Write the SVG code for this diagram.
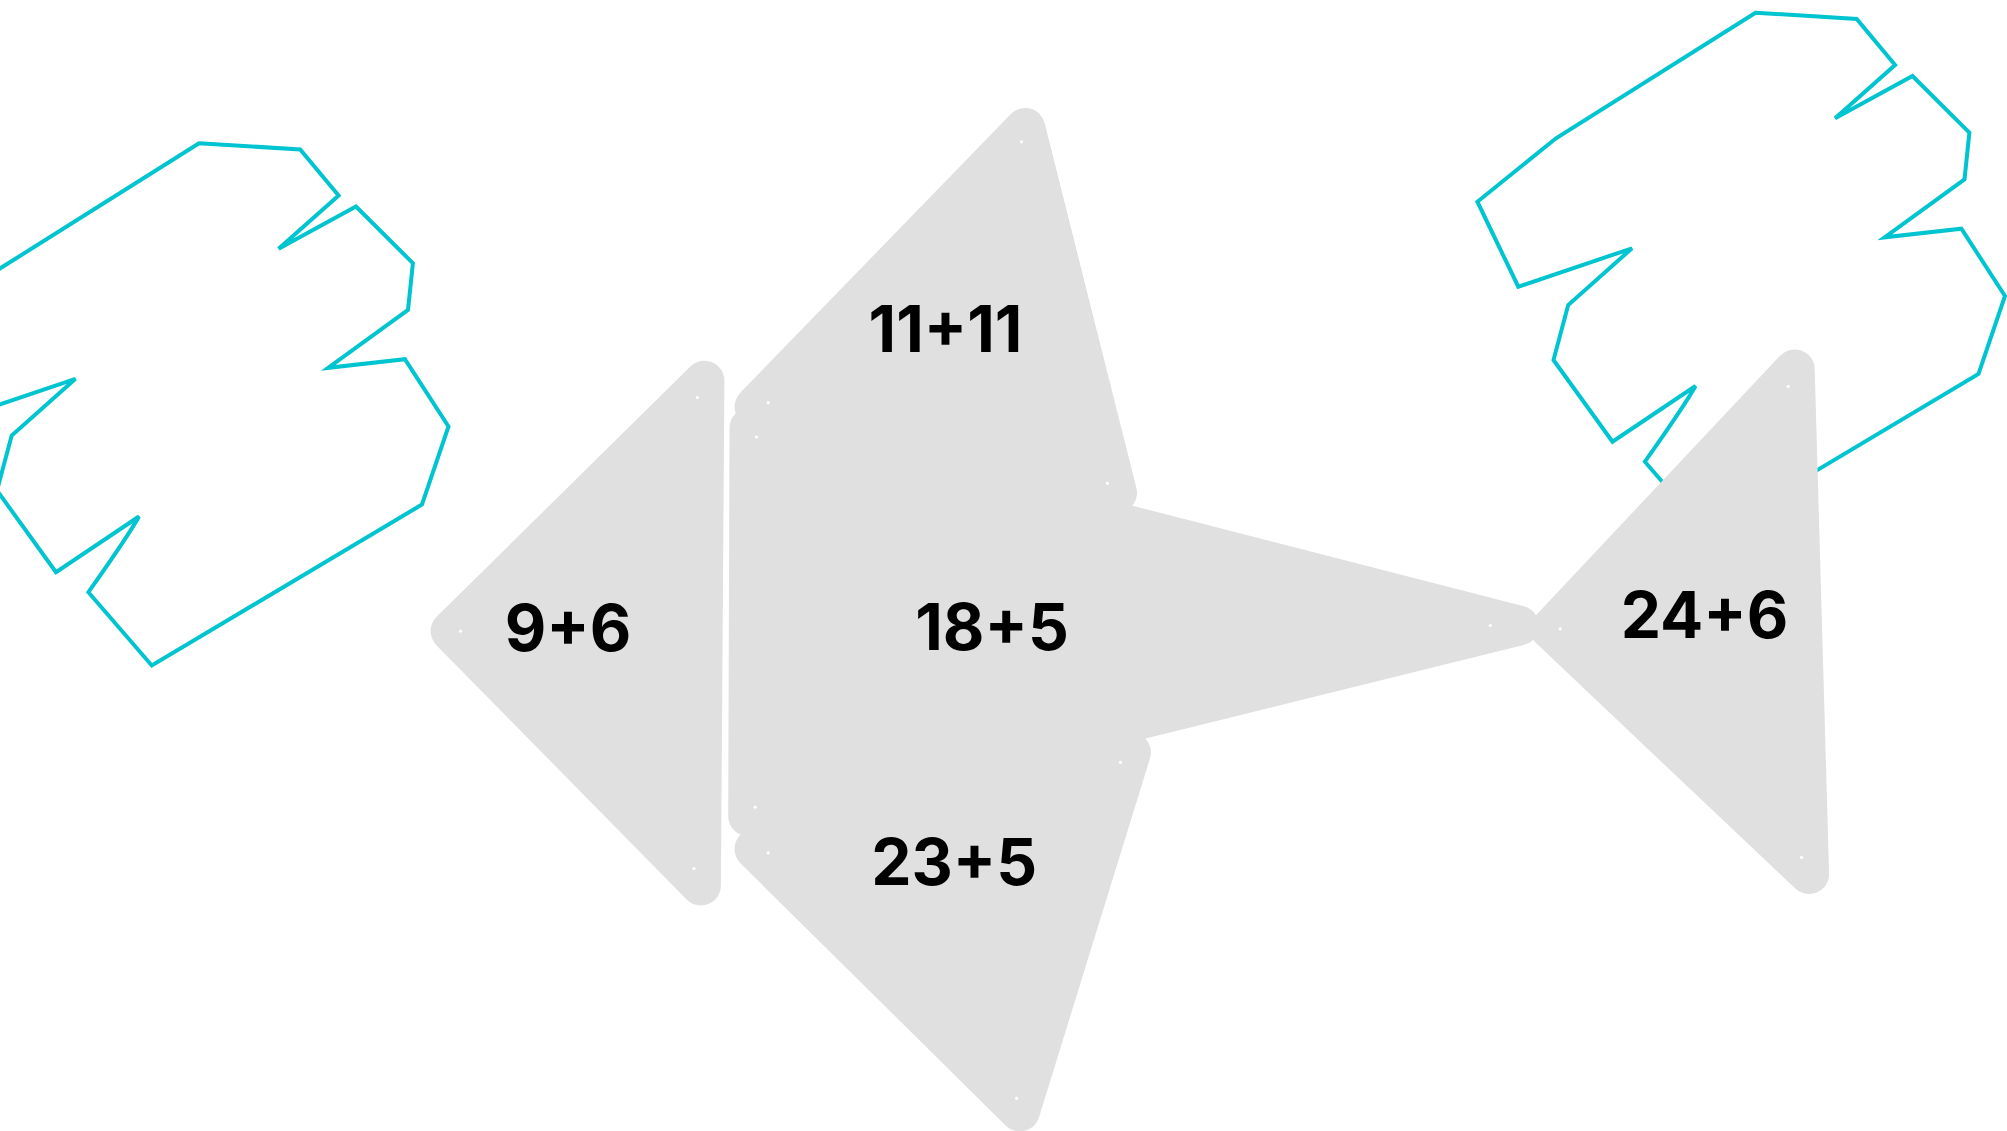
<svg xmlns="http://www.w3.org/2000/svg" xmlns:xlink="http://www.w3.org/1999/xlink" width="2007" height="1131" viewBox="0 0 2007 1131">
<style>
.tri{fill:#e0e0e0;stroke:#e0e0e0;stroke-width:40;stroke-linejoin:round}
.dot{fill:#ffffff}
.lbl{font-family:"Inter","Liberation Sans",sans-serif;font-weight:700;font-size:64px;fill:#000;text-anchor:middle}
.blob{fill:none;stroke:#00c4d0;stroke-width:4;stroke-linejoin:miter}
</style>
<defs>
<path id="blobShape" d="M1755.5,12.7 L1856.7,19 L1895.1,65 L1835.1,118.3 L1912.5,76 L1969.4,132.7 L1964.5,179.3 L1884.6,237.3 L1961.4,228.7 L2005,296 L1978.5,374 L1708.3,535 L1644.9,461.7 Q1685,405 1695.5,386 L1612.5,441.7 L1553.5,360 L1568.2,305 L1632,248.3 L1518.3,286.7 L1477.4,201.7 L1556,138.3 Z"/>
</defs>
<rect width="2007" height="1131" fill="#ffffff"/>
<g id="decor">
<use id="blob-left" xlink:href="#blobShape" href="#blobShape" class="blob" transform="translate(-1556.5,130.5)"/>
<use id="blob-right" xlink:href="#blobShape" href="#blobShape" class="blob"/>
</g>
<g id="connectors"></g>
<g id="node-9-6">
<polygon class="tri" points="704.4,380.7 700.9,885.5 450.6,631.1"/>
<circle class="dot" cx="697.3" cy="397.5" r="1.6"/>
<circle class="dot" cx="460.5" cy="631.2" r="1.6"/>
<circle class="dot" cx="694" cy="868.5" r="1.6"/>
<text class="lbl" x="568" y="651">9+6</text>
</g>
<g id="node-18-5">
<polygon class="tri" points="749.5,428 1518.9,625.6 748.2,816.2"/>
<circle class="dot" cx="756.5" cy="437" r="1.6"/>
<circle class="dot" cx="1490.3" cy="625.5" r="1.6"/>
<circle class="dot" cx="755.2" cy="807.2" r="1.6"/>
<text class="lbl" x="992" y="650">18+5</text>
</g>
<g id="node-11-11">
<polygon class="tri" points="1025.2,127.9 1117,492.8 754.6,406.7"/>
<circle class="dot" cx="1021.5" cy="141.8" r="1.6"/>
<circle class="dot" cx="768.2" cy="402.7" r="1.6"/>
<circle class="dot" cx="1107.4" cy="483.3" r="1.6"/>
<text class="lbl" x="945.5" y="351.5">11+11</text>
</g>
<g id="node-23-5">
<polygon class="tri" points="754.5,849.1 1130.9,752.4 1019.9,1111.4"/>
<circle class="dot" cx="768.2" cy="852.8" r="1.6"/>
<circle class="dot" cx="1120.5" cy="762.3" r="1.6"/>
<circle class="dot" cx="1016.6" cy="1098.3" r="1.6"/>
<text class="lbl" x="954.2" y="885">23+5</text>
</g>
<g id="node-24-6">
<polygon class="tri" points="1794.7,369.4 1809.1,874.1 1550.3,629.1"/>
<circle class="dot" cx="1788.2" cy="386.5" r="1.6"/>
<circle class="dot" cx="1560.2" cy="628.8" r="1.6"/>
<circle class="dot" cx="1801.6" cy="857.4" r="1.6"/>
<text class="lbl" x="1704.5" y="638">24+6</text>
</g>
</svg>
